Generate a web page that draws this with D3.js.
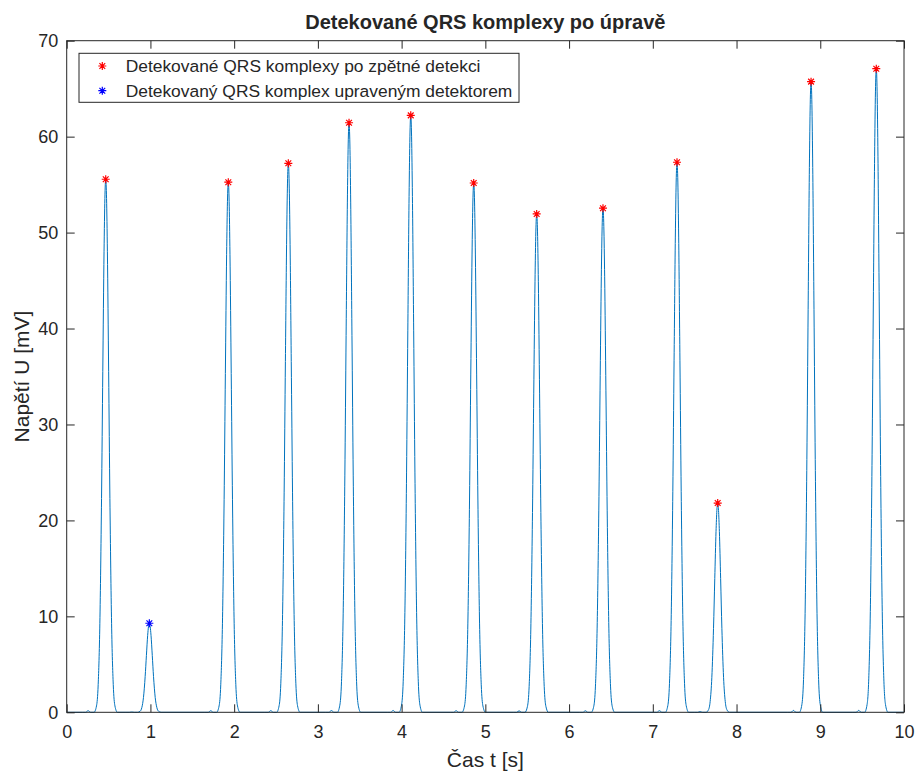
<!DOCTYPE html>
<html>
<head>
<meta charset="utf-8">
<script src="https://cdn.jsdelivr.net/npm/d3@7"></script>
<style>
  body { margin: 0; background: #fff; }
  svg { display: block; }
  text { font-family: "Liberation Sans", Arial, Helvetica, sans-serif; fill: #262626; }
</style>
</head>
<body>
<svg id="chart" width="915" height="771"></svg>
<script>
// R-peak times [s] and amplitudes [mV]
const peakTimes  = [0.466, 0.987, 1.930, 2.647, 3.372, 4.109, 4.861, 5.613, 6.405, 7.289, 7.775, 8.890, 9.669];
const peakValues = [55.56, 9.28, 55.25, 57.22, 61.45, 62.22, 55.17, 51.94, 52.54, 57.33, 21.81, 65.73, 67.08];
// which detector found each peak: 0 = back-search, 1 = modified detector
const peakSource = [0, 1, 0, 0, 0, 0, 0, 0, 0, 0, 0, 0, 0];

// QRS complex profile (time offset from the R peak, level relative to R amplitude)
const pulseOffsets = [-0.28, -0.24, -0.21, -0.18, -0.14, -0.11, -0.09, -0.07, -0.05, -0.035, -0.02, -0.01, 0,
                      0.01, 0.02, 0.035, 0.05, 0.07, 0.09, 0.11, 0.14];
const pulseShape   = [0, 0, 0.003, 0, 0, 0.012, 0.052, 0.167, 0.401, 0.639, 0.864, 0.964, 1,
                      0.964, 0.864, 0.639, 0.401, 0.167, 0.052, 0.012, 0];

const xTicks = [0, 1, 2, 3, 4, 5, 6, 7, 8, 9, 10];
const yTicks = [0, 10, 20, 30, 40, 50, 60, 70];
const legendLabels = ["Detekované QRS komplexy po zpětné detekci",
                      "Detekovaný QRS komplex upraveným detektorem"];
const markerColors = ["#ff0000", "#0000ff"];

const svg = d3.select("#chart");
const L = 66.7, R = 904, T = 40.7, B = 712.3;
const axisColor = "#262626";

const x = d3.scaleLinear().domain([0, 10]).range([L, R]);
const y = d3.scaleLinear().domain([0, 70]).range([B, T]);

// assemble the ECG trace from the QRS profile placed at each R peak
const trace = [{ t: 0, u: 0 }];
peakTimes.forEach((pt, i) => {
  pulseOffsets.forEach((off, j) => trace.push({ t: pt + off, u: peakValues[i] * pulseShape[j] }));
});
trace.push({ t: 10, u: 0 });

svg.append("path")
  .datum(trace)
  .attr("fill", "none")
  .attr("stroke", "#0072bd")
  .attr("stroke-width", 1)
  .attr("d", d3.line().x(d => x(d.t)).y(d => y(d.u)).curve(d3.curveMonotoneX));

// axes with inward ticks
const tickLen = 8;
const gx = svg.append("g").attr("transform", `translate(0,${B})`)
  .call(d3.axisBottom(x).tickValues(xTicks).tickFormat(d3.format("d")).tickSizeInner(-tickLen).tickSizeOuter(0).tickPadding(13));
const gxTop = svg.append("g").attr("transform", `translate(0,${T})`)
  .call(d3.axisTop(x).tickValues(xTicks).tickFormat("").tickSizeInner(-tickLen).tickSizeOuter(0));
const gy = svg.append("g").attr("transform", `translate(${L},0)`)
  .call(d3.axisLeft(y).tickValues(yTicks).tickFormat(d3.format("d")).tickSizeInner(-tickLen).tickSizeOuter(0).tickPadding(8.5));
const gyRight = svg.append("g").attr("transform", `translate(${R},0)`)
  .call(d3.axisRight(y).tickValues(yTicks).tickFormat("").tickSizeInner(-tickLen).tickSizeOuter(0));

[gx, gxTop, gy, gyRight].forEach(g => {
  g.select(".domain").remove();
  g.selectAll(".tick line").attr("stroke", axisColor).attr("stroke-width", 1);
  g.selectAll(".tick text").attr("font-size", 18).attr("fill", axisColor)
    .style("font-family", '"Liberation Sans", Arial, sans-serif');
});

svg.append("rect")
  .attr("x", L).attr("y", T).attr("width", R - L).attr("height", B - T)
  .attr("fill", "none").attr("stroke", axisColor).attr("stroke-width", 1);

// asterisk marker
function star(r) {
  const d = r * 0.72;
  return `M${-r},0H${r}M0,${-r}V${r}M${-d},${-d}L${d},${d}M${-d},${d}L${d},${-d}`;
}

svg.append("g").selectAll("path")
  .data(peakTimes.map((t, i) => ({ t, u: peakValues[i], s: peakSource[i] })))
  .join("path")
  .attr("transform", d => `translate(${x(d.t)},${y(d.u)})`)
  .attr("d", star(4))
  .attr("fill", "none")
  .attr("stroke", d => markerColors[d.s])
  .attr("stroke-width", 1.2);

// titles
svg.append("text")
  .attr("x", (L + R) / 2).attr("y", 29)
  .attr("text-anchor", "middle").attr("font-size", 20).attr("font-weight", "bold")
  .attr("fill", "#000")
  .text("Detekované QRS komplexy po úpravě");

svg.append("text")
  .attr("x", (L + R) / 2).attr("y", 767)
  .attr("text-anchor", "middle").attr("font-size", 21)
  .text("Čas t [s]");

svg.append("text")
  .attr("transform", `translate(29,${(T + B) / 2}) rotate(-90)`)
  .attr("text-anchor", "middle").attr("font-size", 21)
  .text("Napětí U [mV]");

// legend
const lg = svg.append("g");
lg.append("rect")
  .attr("x", 79).attr("y", 53.3).attr("width", 440).attr("height", 49)
  .attr("fill", "#fff").attr("stroke", axisColor).attr("stroke-width", 1);
legendLabels.forEach((lab, i) => {
  const cy = 66 + i * 24.7;
  lg.append("path")
    .attr("transform", `translate(102.3,${cy})`)
    .attr("d", star(4)).attr("fill", "none")
    .attr("stroke", markerColors[i]).attr("stroke-width", 1.2);
  lg.append("text")
    .attr("x", 125.7).attr("y", cy).attr("dy", "0.35em")
    .attr("font-size", 17.4).attr("fill", "#000")
    .text(lab);
});
</script>
</body>
</html>
